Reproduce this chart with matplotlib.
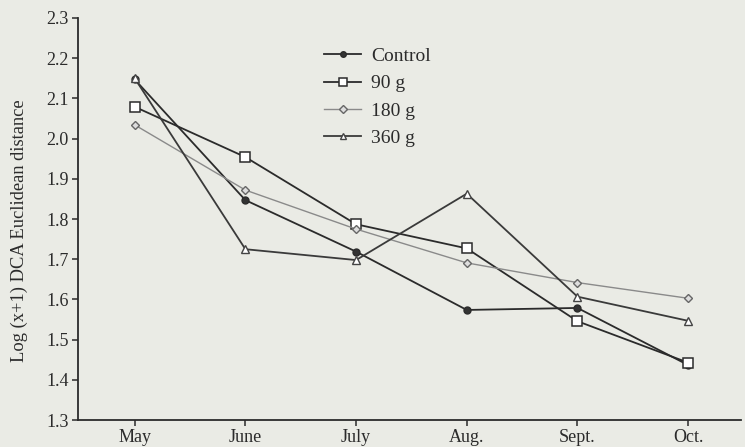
import matplotlib.pyplot as plt

months = ["May", "June", "July", "Aug.", "Sept.", "Oct."]
control = [2.147, 1.847, 1.719, 1.574, 1.579, 1.437]
g90 = [2.079, 1.954, 1.787, 1.727, 1.546, 1.443]
g180 = [2.034, 1.872, 1.775, 1.691, 1.642, 1.603]
g360 = [2.150, 1.725, 1.698, 1.863, 1.607, 1.547]

bg = "#eaebe5"
ink = "#2b2b2b"
plt.rcParams['font.family'] = ['Liberation Serif', 'DejaVu Serif']

fig = plt.figure(figsize=(7.45, 4.47), dpi=100, facecolor=bg)
ax = fig.add_axes([0.105, 0.060, 0.89, 0.900], facecolor=bg)

x = range(len(months))
ax.plot(x, control, '-o', color=ink, lw=1.3, ms=5, mfc="#333333", mec=ink, label="Control")
ax.plot(x, g90, '-s', color=ink, lw=1.3, ms=7, mfc="white", mec=ink, mew=1.1, label="90 g")
ax.plot(x, g180, '-D', color="#8a8a8a", lw=1.0, ms=4.5, mfc="#dddddd", mec="#666666", label="180 g")
ax.plot(x, g360, '-^', color="#3a3a3a", lw=1.3, ms=6, mfc="white", mec="#444444", label="360 g")

ax.set_xlim(-0.51, 5.48)
ax.set_ylim(1.3, 2.3)
ax.set_yticks([1.3 + 0.1*i for i in range(11)])
ax.set_yticklabels([f"{1.3 + 0.1*i:.1f}" for i in range(11)])
ax.set_xticks(list(x))
ax.set_xticklabels(months)

for s in ["top", "right"]:
    ax.spines[s].set_visible(False)
for s in ["left", "bottom"]:
    ax.spines[s].set_color(ink)
    ax.spines[s].set_linewidth(1.3)
ax.tick_params(colors=ink, labelsize=13, length=4, width=1.1, pad=3)
ax.tick_params(axis='x', pad=2)

ax.set_ylabel("Log (x+1) DCA Euclidean distance", fontsize=13.3, color=ink)
ax.yaxis.set_label_coords(-0.075, 0.47)

leg = ax.legend(loc="upper left", bbox_to_anchor=(0.345, 0.97), frameon=False,
                fontsize=14, handlelength=1.9, handletextpad=0.5, labelspacing=0.5,
                markerscale=0.8)
for t in leg.get_texts():
    t.set_color(ink)

fig.savefig("out.png", dpi=100, facecolor=bg)
